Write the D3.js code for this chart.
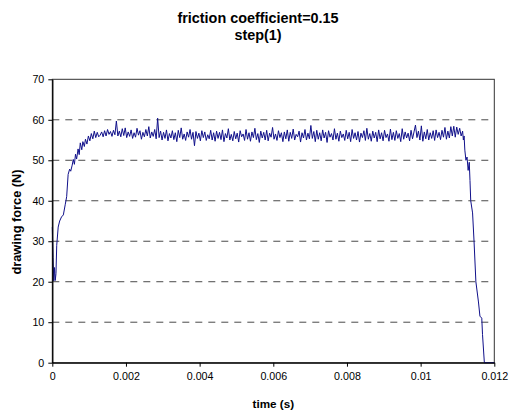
<!doctype html>
<html>
  <head>
    <title>friction coefficient=0.15</title>
    <script src="https://d3js.org/d3.v7.min.js"></script>
    <style>
        body {
            margin: 0;
            padding: 0;
            background: #fff;
        }
        svg {
            font-family: Arial, "Liberation Sans", sans-serif;
        }
        .title, .axisTitle {
            font-weight: bold;
        }
    </style>
  </head>
  <body>
        <div id="chart"></div>
        <script>

            /*
            Data
            */
            var titleLines = ["friction coefficient=0.15", "step(1)"];
            var xLabel = "time (s)";
            var yLabel = "drawing force (N)";

            var xTicks = [0, 0.002, 0.004, 0.006, 0.008, 0.01, 0.012];
            var yTicks = [0, 10, 20, 30, 40, 50, 60, 70];
            var gridValues = [10, 20, 30, 40, 50, 60];

            //start of the run: force drops then climbs
            var rampUpTime = [0, 0.00002, 0.00004, 0.00006, 0.00008, 0.0001, 0.00012, 0.00016, 0.0002, 0.00025,
                0.0003, 0.00035, 0.00039, 0.00043, 0.00047, 0.0005, 0.00054, 0.00057, 0.0006, 0.00063,
                0.00066, 0.0007, 0.00073, 0.00076, 0.0008, 0.00083, 0.00087, 0.0009, 0.00094, 0.00098,
                0.00102, 0.00106, 0.0011, 0.00114, 0.00118, 0.00122, 0.00126];
            var rampUpForce = [33.5, 26, 20.2, 23.5, 20.3, 22, 29, 33.5, 35, 36,
                36.5, 39, 41, 46.5, 47.8, 47.3, 48.8, 50.2, 49, 51.5,
                50.3, 52.8, 51.4, 54.3, 52.6, 54.6, 53.4, 55.2, 54, 56,
                54.8, 56.6, 55.3, 57.2, 55.6, 56.9, 55.8];

            //steady part, sampled every plateauStep from plateauStart
            var plateauStart = 0.0013;
            var plateauStep = 0.00004;
            var plateauForce = [
                56.2, 57.0, 55.8, 57.3, 56.0, 57.6, 56.4, 57.1, 55.9, 57.4,
                56.3, 59.7, 56.0, 57.2, 55.8, 57.8, 56.1, 58.0, 55.6, 57.0,
                55.9, 57.5, 55.4, 56.8, 55.7, 57.9, 56.2, 57.3, 55.2, 56.9,
                55.8, 57.6, 56.0, 58.3, 55.5, 57.0, 55.9, 57.6, 55.3, 60.4,
                55.6, 57.2, 55.0, 56.9, 55.4, 57.5, 54.8, 56.6, 55.5, 57.3,
                55.1, 56.8, 54.6, 57.4, 55.6, 58.0, 55.2, 56.5, 54.9, 57.0,
                55.7, 57.6, 55.2, 56.9, 53.6, 57.1, 55.4, 56.7, 54.8, 57.3,
                55.6, 57.0, 54.9, 56.3, 55.3, 57.4, 55.0, 56.8, 54.7, 57.2,
                55.4, 56.9, 55.1, 57.5, 54.6, 56.6, 55.5, 57.8, 55.0, 56.4,
                54.8, 57.1, 55.3, 56.7, 54.5, 57.3, 55.8, 56.5, 54.9, 57.6,
                55.2, 56.8, 54.7, 57.0, 55.6, 57.9, 55.1, 56.6, 54.4, 57.2,
                55.5, 56.9, 55.0, 57.4, 54.8, 56.7, 55.7, 58.1, 55.2, 56.5,
                54.9, 57.3, 55.6, 56.8, 54.6, 57.0, 55.3, 57.5, 54.7, 56.9,
                55.4, 57.7, 55.0, 56.4, 55.8, 57.2, 54.5, 56.8, 55.5, 57.6,
                55.0, 56.7, 55.3, 58.6, 55.4, 57.1, 54.6, 57.4, 55.2, 56.8,
                54.8, 57.5, 55.5, 56.9, 54.4, 57.3, 55.7, 56.6, 55.0, 57.8,
                55.2, 56.7, 54.7, 57.2, 55.6, 56.5, 54.9, 57.4, 55.3, 56.9,
                54.6, 57.6, 55.4, 56.8, 55.0, 57.1, 54.5, 56.7, 55.6, 57.3,
                54.9, 57.9, 55.2, 56.6, 54.7, 57.2, 55.5, 56.9, 54.6, 57.5,
                55.3, 56.8, 54.8, 57.4, 55.6, 56.5, 54.7, 57.7, 55.1, 56.9,
                54.9, 57.3, 55.4, 56.6, 54.6, 57.8, 55.2, 57.0, 55.5, 56.7,
                54.8, 57.4, 55.3, 57.0, 58.7, 55.6, 57.2, 55.0, 58.5, 54.7,
                57.0, 55.3, 57.6, 55.0, 56.8, 55.4, 57.3, 54.9, 57.5, 55.6,
                56.9, 55.1, 57.4, 55.7, 58.1, 55.2, 57.2, 55.5, 58.3, 56.0,
                58.4, 55.7, 58.2, 56.4, 57.9, 56.0];

            //end of the run: force falls to zero
            var rampDownTime = [0.01114, 0.01116, 0.01118, 0.0112, 0.01123, 0.01126, 0.01129, 0.01132, 0.01134, 0.01136,
                0.01141, 0.01145, 0.0115, 0.01157, 0.01161, 0.01166, 0.01168, 0.01173, 0.012];
            var rampDownForce = [57.2, 55, 56, 52.5, 50, 50.8, 47.5, 49.5, 45, 40,
                37, 30, 20, 15, 11.5, 11, 7, 0, 0];

            /*
            Build one series
            */
            var series = [];
            rampUpTime.forEach((t, i) => series.push([t, rampUpForce[i]]));
            plateauForce.forEach((f, i) => series.push([plateauStart + i * plateauStep, f]));
            rampDownTime.forEach((t, i) => series.push([t, rampDownForce[i]]));

            /*
            SVG and scales
            */
            var width = 511;
            var height = 412;
            var margin = {top: 79.3, right: 16.7, bottom: 49.3, left: 52.3};
            var plotW = width - margin.left - margin.right;
            var plotH = height - margin.top - margin.bottom;

            var svg = d3.select("#chart")
                .append("svg")
                .attr("width", width)
                .attr("height", height);

            var x = d3.scaleLinear()
                .domain([0, 0.012])
                .range([0, plotW]);

            var y = d3.scaleLinear()
                .domain([0, 70])
                .range([plotH, 0]);

            var g = svg.append("g")
                .attr("transform", "translate(" + margin.left + "," + margin.top + ")");

            // dashed gridlines
            g.selectAll("line.grid")
                .data(gridValues)
                .enter()
                .append("line")
                .attr("class", "grid")
                .attr("x1", 0)
                .attr("x2", plotW)
                .attr("y1", (d) => y(d))
                .attr("y2", (d) => y(d))
                .attr("stroke", "#4a4a4a")
                .attr("stroke-width", 1)
                .attr("stroke-dasharray", "7,6");

            // plot frame
            g.append("rect")
                .attr("x", 0)
                .attr("y", 0)
                .attr("width", plotW)
                .attr("height", plotH)
                .attr("fill", "none")
                .attr("stroke", "#333")
                .attr("stroke-width", 1);

            // data line
            g.append("path")
                .datum(series)
                .attr("fill", "none")
                .attr("stroke", "#10108a")
                .attr("stroke-width", 1)
                .attr("stroke-linejoin", "round")
                .attr("d", d3.line()
                    .x((d) => x(d[0]))
                    .y((d) => y(d[1]))
                );

            // axes
            var yAxis = g.append("g")
                .call(d3.axisLeft(y)
                    .tickValues(yTicks)
                    .tickSize(4)
                    .tickSizeOuter(0)
                    .tickPadding(4));

            var xAxis = g.append("g")
                .attr("transform", "translate(0," + plotH + ")")
                .call(d3.axisBottom(x)
                    .tickValues(xTicks)
                    .tickFormat((d) => String(+d.toFixed(3)))
                    .tickSize(4)
                    .tickSizeOuter(0)
                    .tickPadding(6));

            [xAxis, yAxis].forEach((a) => {
                a.select(".domain").attr("stroke", "#000").attr("stroke-width", 1.3);
                a.selectAll(".tick line").attr("stroke", "#000");
                a.selectAll(".tick text")
                    .attr("fill", "#000")
                    .style("font-size", "10.7px")
                    .style("font-family", "Arial, 'Liberation Sans', sans-serif");
            });

            /*
            Titles
            */
            svg.selectAll("text.title")
                .data(titleLines)
                .enter()
                .append("text")
                .attr("class", "title")
                .attr("x", 258)
                .attr("y", (d, i) => 23 + i * 16.5)
                .attr("text-anchor", "middle")
                .style("font-size", "14.4px")
                .text((d) => d);

            svg.append("text")
                .attr("class", "axisTitle")
                .attr("x", margin.left + plotW / 2)
                .attr("y", 408)
                .attr("text-anchor", "middle")
                .style("font-size", "11.7px")
                .text(xLabel);

            svg.append("text")
                .attr("class", "axisTitle")
                .attr("transform", "translate(20.5," + 222 + ") rotate(-90)")
                .attr("text-anchor", "middle")
                .style("font-size", "12.8px")
                .text(yLabel);

        </script>
    </body>
</html>
